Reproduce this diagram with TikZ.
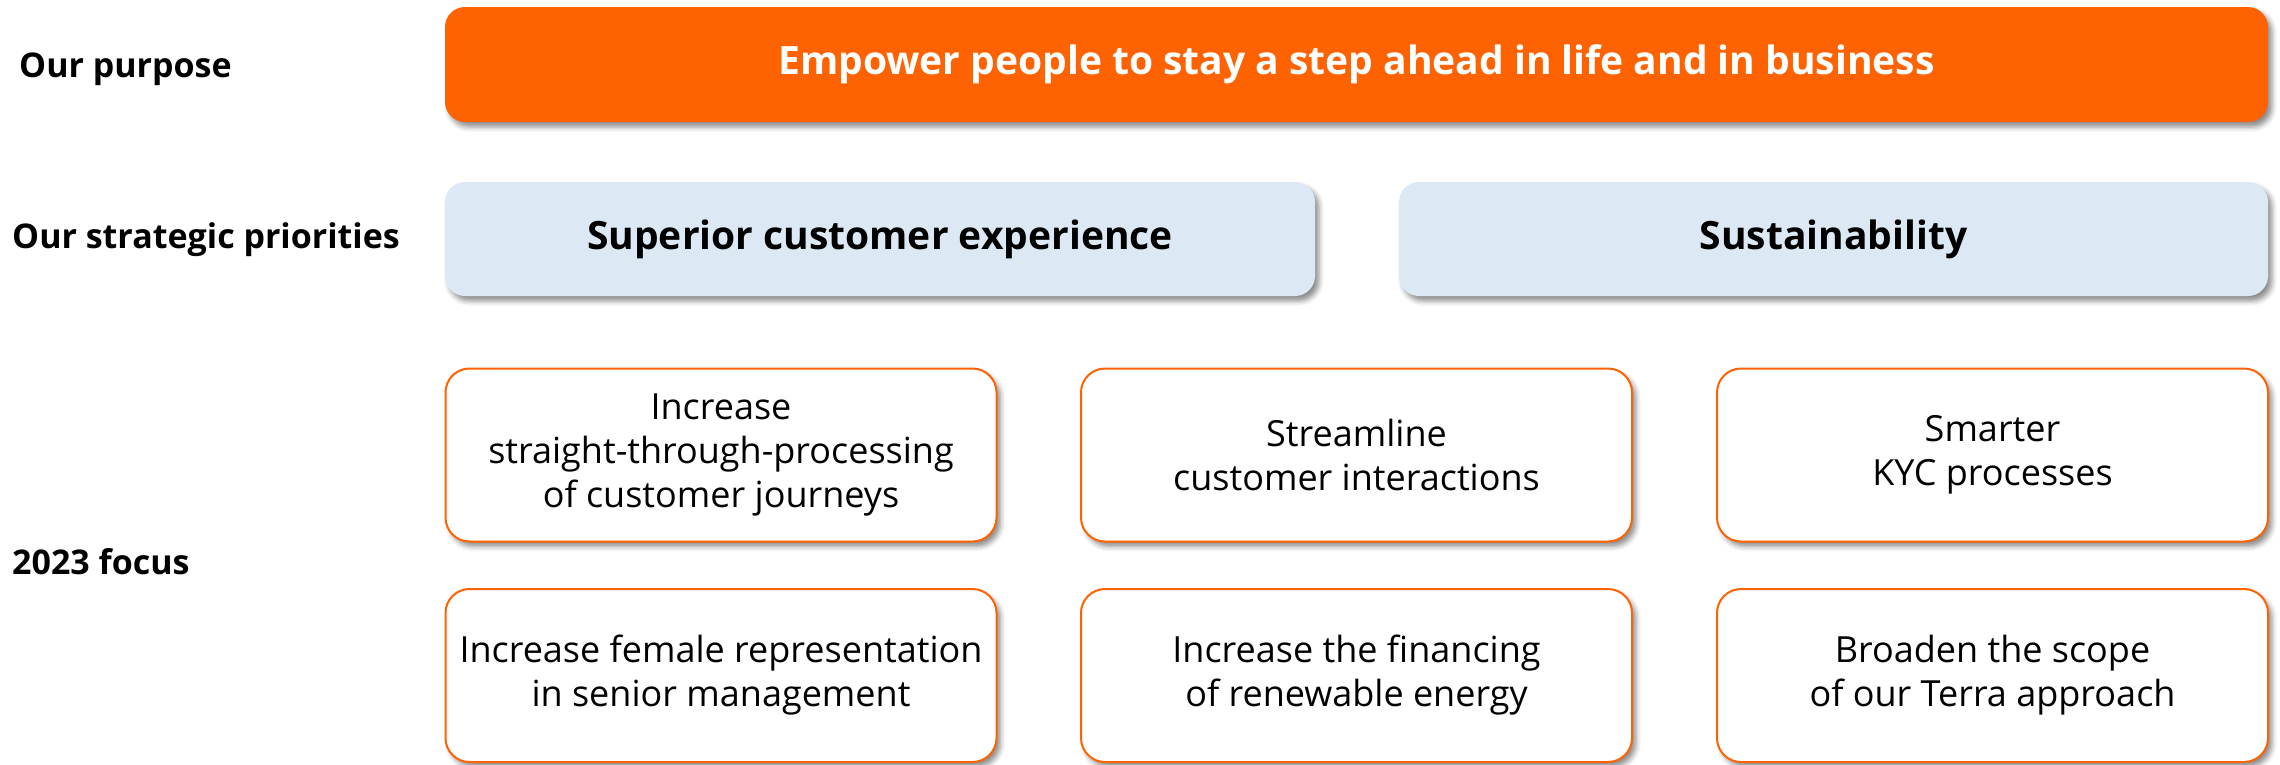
\documentclass[tikz,border=0pt]{standalone}
\usepackage{fontspec}
\setmainfont{Open Sans}
\usetikzlibrary{shadows.blur}
\definecolor{ingorange}{HTML}{FF6200}
\definecolor{inglblue}{HTML}{DCE9F5}
\tikzset{
  shad/.style={blur shadow={shadow xshift=4pt, shadow yshift=-5pt, shadow blur radius=5pt, shadow opacity=45}},
  purposebox/.style={shad, fill=ingorange, rounded corners=20pt, minimum width=1823pt, minimum height=115pt, text=white, font=\bfseries\fontsize{39}{46}\selectfont, inner sep=0pt},
  prioritybox/.style={shad, fill=inglblue, rounded corners=20pt, minimum height=114pt, text=black, font=\bfseries\fontsize{39}{46}\selectfont, inner sep=0pt},
  focusbox/.style={shad, draw=ingorange, line width=2pt, fill=white, rounded corners=24pt, minimum width=551pt, minimum height=173pt, text=black, align=center, font=\fontsize{36}{44}\selectfont, inner sep=0pt},
  rowlabel/.style={anchor=west, text=black, font=\bfseries\fontsize{34}{40}\selectfont, inner sep=0pt}
}
\begin{document}
\begin{tikzpicture}[x=1pt, y=-1pt]
\useasboundingbox (0,0) rectangle (2280,764);
\node[rowlabel] (lp) at (19,69) {Our purpose};
\node[rowlabel] (ls) at (12,240) {Our strategic priorities};
\node[rowlabel] (lf) at (12,562) {2023 focus};
\node[purposebox] (purpose) at (1356.5,64.5) {Empower people to stay a step ahead in life and in business};
\node[prioritybox, minimum width=870pt] (cx) at (880,239) {Superior customer experience};
\node[prioritybox, minimum width=869pt] (sus) at (1833.5,239) {Sustainability};
\node[focusbox] (f1) at (721,455) {Increase\\straight-through-processing\\of customer journeys};
\node[focusbox] (f2) at (1356.5,455) {Streamline\\customer interactions};
\node[focusbox] (f3) at (1992.5,455) {Smarter\\KYC processes};
\node[focusbox] (f4) at (721,675.5) {Increase female representation\\in senior management};
\node[focusbox] (f5) at (1356.5,675.5) {Increase the financing\\of renewable energy};
\node[focusbox] (f6) at (1992.5,675.5) {Broaden the scope\\of our Terra approach};
\end{tikzpicture}
\end{document}
